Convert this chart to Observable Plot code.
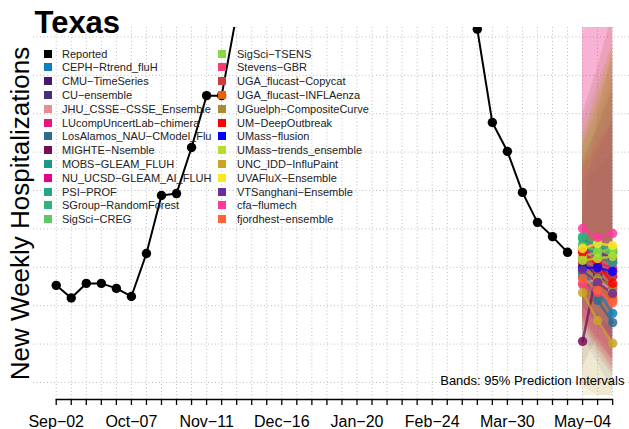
<!DOCTYPE html>
<html>
<head>
<meta charset="utf-8">
<script src="https://cdn.jsdelivr.net/npm/d3@7"></script>
<script src="https://cdn.jsdelivr.net/npm/@observablehq/plot@0.6"></script>
<style>
  html, body { margin: 0; padding: 0; background: #fff; }
  #wrap { position: relative; width: 629px; height: 429px; font-family: "Liberation Sans", Arial, Helvetica, sans-serif; }
  #wrap svg { position: absolute; left: 0; top: 0; }
  .key { position: absolute; height: 14px; line-height: 14px; font-size: 11px; color: #222; white-space: nowrap; }
  .sw { position: absolute; width: 8px; height: 8px; }
</style>
</head>
<body>
<div id="wrap"></div>
<script>
// Texas weekly influenza hospital admissions, 2023-24 season (weeks ending Saturday)
const seasonStart = "2023-09-02";
const tickLabels = ["Sep−02", "Oct−07", "Nov−11", "Dec−16", "Jan−20", "Feb−24", "Mar−30", "May−04"];

// Reported admissions, Sep-02 through Apr-27
const reported = [253, 220, 258, 258, 245, 224, 336, 487, 492, 612, 747, 747, 960, 1250,
  1500, 1850, 2300, 2700, 2500, 2000, 1700, 1550, 1450, 1400, 1350, 1300, 1200, 1060,
  920, 677, 602, 495, 417, 380, 339];

// Forecast target weeks
const forecastWeeks = ["2024-05-04", "2024-05-11", "2024-05-18"];

const models = ["CEPH−Rtrend_fluH", "CMU−TimeSeries", "CU−ensemble", "JHU_CSSE−CSSE_Ensemble",
  "LUcompUncertLab−chimera", "LosAlamos_NAU−CModel_Flu", "MIGHTE−Nsemble", "MOBS−GLEAM_FLUH",
  "NU_UCSD−GLEAM_AI_FLUH", "PSI−PROF", "SGroup−RandomForest", "SigSci−CREG", "SigSci−TSENS",
  "Stevens−GBR", "UGA_flucast−Copycat", "UGA_flucast−INFLAenza", "UGuelph−CompositeCurve",
  "UM−DeepOutbreak", "UMass−flusion", "UMass−trends_ensemble", "UNC_IDD−InfluPaint",
  "UVAFluX−Ensemble", "VTSanghani−Ensemble", "cfa−flumech", "fjordhest−ensemble"];

const modelColors = ["#117fba", "#48186a", "#472f7d", "#ea8c95", "#e5197b", "#2d6d8e", "#7a0c56",
  "#1f968b", "#e7008b", "#22a785", "#2fb47c", "#5ec962", "#8bd646", "#f73d72", "#cc3d3d",
  "#e66101", "#a88d32", "#ff0000", "#0000ff", "#b5de2b", "#c9a427", "#fde725", "#6a3096",
  "#fd3a9b", "#fe6436"];

// Median forecasts (3 horizons per model)
const medians = [
  [286, 240, 180], [312, 279, 245], [349, 339, 323], [260, 266, 240], [323, 312, 297],
  [276, 214, 156], [107, 297, 276], [375, 354, 339], [344, 328, 312], [359, 331, 312],
  [380, 359, 344], [354, 344, 336], [328, 339, 349], [255, 234, 214], [312, 292, 276],
  [302, 260, 224], [292, 271, 250], [339, 307, 258], [299, 299, 289], [318, 323, 328],
  [234, 161, 102], [349, 362, 357], [292, 260, 232], [401, 378, 388], [271, 240, 208]];

// 95% prediction interval bounds
const lower95 = [
  [150, 90, 40], [200, 150, 110], [230, 190, 150], [140, 100, 60], [180, 120, 60],
  [120, 50, -20], [40, 120, 80], [250, 200, 160], [170, 110, 60], [230, 170, 120],
  [220, 160, 110], [210, 160, 120], [200, 180, 170], [130, 70, 20], [160, 100, 40],
  [150, 80, 20], [-34, -34, -34], [220, 160, 100], [200, 150, 110], [200, 170, 140],
  [-10, -34, -34], [220, 180, 140], [170, 110, 60], [170, 90, 30], [160, 100, 50]];
const upper95 = [
  [560, 680, 800], [520, 560, 600], [560, 640, 720], [900, 1000, 1100], [960, 1100, 1250],
  [620, 720, 840], [420, 700, 860], [600, 680, 760], [1000, 1150, 1300], [620, 700, 780],
  [680, 780, 880], [640, 740, 840], [600, 680, 780], [700, 820, 960], [640, 760, 880],
  [620, 740, 860], [700, 820, 960], [560, 620, 680], [520, 600, 680], [620, 740, 880],
  [600, 700, 800], [640, 760, 880], [580, 660, 760], [1100, 1350, 1500], [560, 660, 780]];

const yGridValues = [0, 100, 200, 300, 400, 500, 600, 700, 800, 900];

// ---- derived tables ----
const WEEK = 7 * 864e5;
const t0 = new Date(seasonStart + "T00:00:00Z");
const weekDates = d3.range(38).map(i => new Date(+t0 + i * WEEK));
const labelDates = tickLabels.map((_, i) => weekDates[i * 5]);
const labelByTime = new Map(labelDates.map((d, i) => [+d, tickLabels[i]]));

const reportedRows = reported.map((v, i) => ({date: weekDates[i], value: v}));
const forecastRows = models.flatMap((m, k) => forecastWeeks.map((w, h) => ({
  model: m,
  date: new Date(w + "T00:00:00Z"),
  median: medians[k][h],
  lo: lower95[k][h],
  hi: upper95[k][h]
})));

const yDomain = [-44.3, 924.5];
const xDomain = [new Date(+t0 - 1.51 * WEEK), new Date(+t0 + 38.12 * WEEK)];
const font = "Liberation Sans, Arial, Helvetica, sans-serif";
const grid = {stroke: "#bdbdbd", strokeOpacity: 1, strokeWidth: 1, strokeDasharray: "1,2.5"};

const chart = Plot.plot({
  width: 629,
  height: 429,
  marginLeft: 33,
  marginRight: 0,
  marginTop: 27,
  marginBottom: 30,
  style: {fontFamily: font, background: "transparent", overflow: "visible"},
  x: {type: "utc", domain: xDomain, label: null},
  y: {domain: yDomain, axis: null},
  color: {domain: models, range: modelColors},
  marks: [
    Plot.gridY(yGridValues, grid),
    Plot.gridX(weekDates, grid),
    // prediction bands
    Plot.areaY(forecastRows, {x: "date", y1: "lo", y2: "hi", z: "model", fill: "model", fillOpacity: 0.11, clip: true}),
    // reported series
    Plot.line(reportedRows, {x: "date", y: "value", stroke: "black", strokeWidth: 2, clip: true}),
    Plot.dot(reportedRows, {x: "date", y: "value", r: 4.7, fill: "black", stroke: "none", clip: true}),
    // model medians
    Plot.line(forecastRows, {x: "date", y: "median", z: "model", stroke: "model", strokeWidth: 2.5, strokeOpacity: 0.75, clip: true}),
    Plot.dot(forecastRows, {x: "date", y: "median", fill: "model", r: 4.7, fillOpacity: 0.85, stroke: "none", clip: true}),
    // x axis: line, weekly ticks, labels every five weeks
    Plot.ruleY([yDomain[0]], {x1: () => weekDates[0], x2: () => weekDates[weekDates.length - 1], stroke: "black", strokeWidth: 1.3}),
    Plot.axisX(weekDates, {tickSize: 6, tickFormat: () => "", stroke: "black", strokeWidth: 1.3}),
    Plot.axisX(labelDates, {tickSize: 0, tickPadding: 16, tickFormat: d => labelByTime.get(+d), fontSize: 16, fill: "black", label: null}),
    // annotations
    Plot.text(["New Weekly Hospitalizations"], {frameAnchor: "left", textAnchor: "middle", rotate: -90, dx: -13, fontSize: 26, fill: "black"}),
    Plot.text(["Texas"], {frameAnchor: "top-left", textAnchor: "start", lineAnchor: "middle", dx: 1, dy: -4, fontSize: 31, fontWeight: "bold", fill: "black"}),
    Plot.text(["Bands: 95% Prediction Intervals"], {frameAnchor: "bottom-right", textAnchor: "end", dx: -5, dy: -14.5, fontSize: 13, fill: "black"})
  ]
});

const wrap = document.getElementById("wrap");
wrap.appendChild(chart);

// legend, two columns
const keyNames = ["Reported", ...models];
const keyColors = ["#000000", ...modelColors];
keyNames.forEach((name, i) => {
  const col = i < 13 ? 0 : 1;
  const row = i % 13;
  const cy = 53.5 + row * 13.8;
  const sw = document.createElement("div");
  sw.className = "sw";
  sw.style.left = (col ? 218 : 44) + "px";
  sw.style.top = (cy - 4) + "px";
  sw.style.background = keyColors[i];
  wrap.appendChild(sw);
  const t = document.createElement("div");
  t.className = "key";
  t.style.left = (col ? 237 : 62) + "px";
  t.style.top = (cy - 7) + "px";
  t.textContent = name;
  wrap.appendChild(t);
});
</script>
</body>
</html>
